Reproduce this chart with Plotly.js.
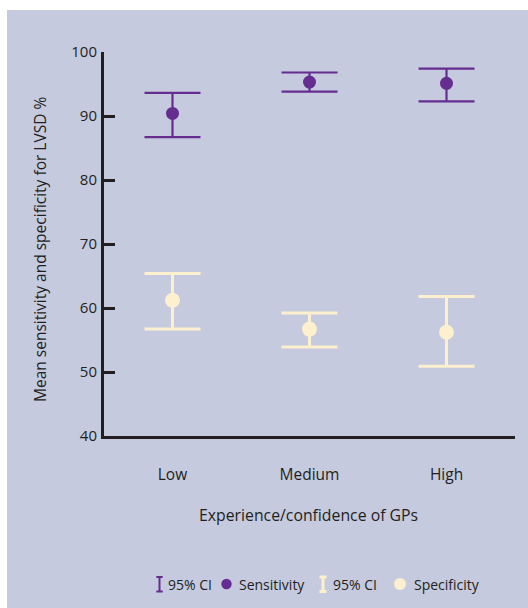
<!DOCTYPE html>
<html>
<head>
<meta charset="utf-8">
<script src="https://cdn.plot.ly/plotly-3.0.1.min.js"></script>
<style>html,body{margin:0;padding:0;background:#fff;}#chart{width:528px;height:608px;}</style>
</head>
<body>
<div id="chart"></div>
<script>
// ---- data ----
var categories = ["Low", "Medium", "High"];
var sensitivity = [90.4, 95.3, 95.1];
var sensitivityUpper = [93.6, 96.8, 97.4];
var sensitivityLower = [86.7, 93.8, 92.3];
var specificity = [61.2, 56.7, 56.2];
var specificityUpper = [65.4, 59.2, 61.8];
var specificityLower = [56.7, 53.9, 50.9];
var yTicks = [40, 50, 60, 70, 80, 90, 100];

var purple = "#652D90";
var cream = "#FCF0CF";
var panel = "#C5CADF";
var ink = "#231F20";
var FONT = "Open Sans, sans-serif";

function diff(a, b) { return a.map(function (v, i) { return v - b[i]; }); }

var traces = [
  {
    type: "scatter", mode: "markers", x: categories, y: sensitivity,
    marker: { color: purple, size: 13 },
    error_y: { type: "data", symmetric: false,
      array: diff(sensitivityUpper, sensitivity),
      arrayminus: diff(sensitivity, sensitivityLower),
      color: purple, thickness: 2.2, width: 28 },
    showlegend: false, hoverinfo: "skip"
  },
  {
    type: "scatter", mode: "markers", x: categories, y: specificity,
    marker: { color: cream, size: 15 },
    error_y: { type: "data", symmetric: false,
      array: diff(specificityUpper, specificity),
      arrayminus: diff(specificity, specificityLower),
      color: cream, thickness: 3, width: 28 },
    showlegend: false, hoverinfo: "skip"
  }
];

// plot area in pixels
var L = 104, R = 515, T = 52, B = 436;
function px(x) { return (x - L) / (R - L); }
function py(y) { return (B - y) / (B - T); }

var shapes = [
  { type: "rect", xref: "paper", yref: "paper", x0: px(7), x1: px(530), y0: py(10), y1: py(612),
    fillcolor: panel, line: { width: 0 }, layer: "below" }
];
function ibeam(cx, y0, y1, half, color, w) {
  shapes.push({ type: "line", xref: "paper", yref: "paper", x0: px(cx), x1: px(cx), y0: py(y0), y1: py(y1), line: { color: color, width: w } });
  shapes.push({ type: "line", xref: "paper", yref: "paper", x0: px(cx - half), x1: px(cx + half), y0: py(y0), y1: py(y0), line: { color: color, width: w } });
  shapes.push({ type: "line", xref: "paper", yref: "paper", x0: px(cx - half), x1: px(cx + half), y0: py(y1), y1: py(y1), line: { color: color, width: w } });
}
function dot(cx, cy, r, color) {
  shapes.push({ type: "circle", xref: "paper", yref: "paper", x0: px(cx - r), x1: px(cx + r), y0: py(cy - r), y1: py(cy + r), fillcolor: color, line: { width: 0 } });
}
ibeam(159.5, 577, 591.5, 3.2, purple, 2);
dot(226.5, 584, 5.2, purple);
ibeam(323, 577, 591.5, 3.5, cream, 3);
dot(400, 584, 6, cream);

var annotations = [
  { text: "Mean sensitivity and specificity for LVSD %", xref: "paper", yref: "paper", x: px(40), y: py(250),
    textangle: -90, showarrow: false, xanchor: "center", yanchor: "middle", font: { family: FONT, size: 15.5, color: ink } },
  { text: "Experience/confidence of GPs", xref: "paper", yref: "paper", x: px(308), y: py(515),
    showarrow: false, xanchor: "center", yanchor: "middle", font: { family: FONT, size: 15.8, color: ink } },
  { text: "95% CI", xref: "paper", yref: "paper", x: px(166), y: py(584), showarrow: false, xanchor: "left", yanchor: "middle", font: { family: FONT, size: 14, color: ink } },
  { text: "Sensitivity", xref: "paper", yref: "paper", x: px(237), y: py(584), showarrow: false, xanchor: "left", yanchor: "middle", font: { family: FONT, size: 14, color: ink } },
  { text: "95% CI", xref: "paper", yref: "paper", x: px(331), y: py(584), showarrow: false, xanchor: "left", yanchor: "middle", font: { family: FONT, size: 14, color: ink } },
  { text: "Specificity", xref: "paper", yref: "paper", x: px(412), y: py(584), showarrow: false, xanchor: "left", yanchor: "middle", font: { family: FONT, size: 14, color: ink } }
];

var layout = {
  width: 528, height: 608,
  margin: { l: L, r: 528 - R, t: T, b: 608 - B, pad: 0 },
  paper_bgcolor: "#ffffff",
  plot_bgcolor: panel,
  showlegend: false,
  font: { family: FONT, size: 15, color: ink },
  xaxis: {
    type: "category", range: [-0.5, 2.5], showgrid: false, zeroline: false,
    showline: true, linecolor: ink, linewidth: 3, ticks: "",
    tickfont: { family: FONT, size: 15.5, color: ink }, ticklabelstandoff: 22,
    fixedrange: true
  },
  yaxis: {
    range: [40, 100], tickvals: yTicks, ticktext: yTicks.map(String),
    showgrid: false, zeroline: false, showline: true, linecolor: ink, linewidth: 3,
    ticks: "inside", ticklen: 11, tickwidth: 3, tickcolor: ink,
    tickfont: { family: FONT, size: 15, color: ink }, ticklabelstandoff: 1,
    fixedrange: true
  },
  shapes: shapes,
  annotations: annotations
};

Plotly.newPlot("chart", traces, layout, { displayModeBar: false, staticPlot: true });
</script>
</body>
</html>
